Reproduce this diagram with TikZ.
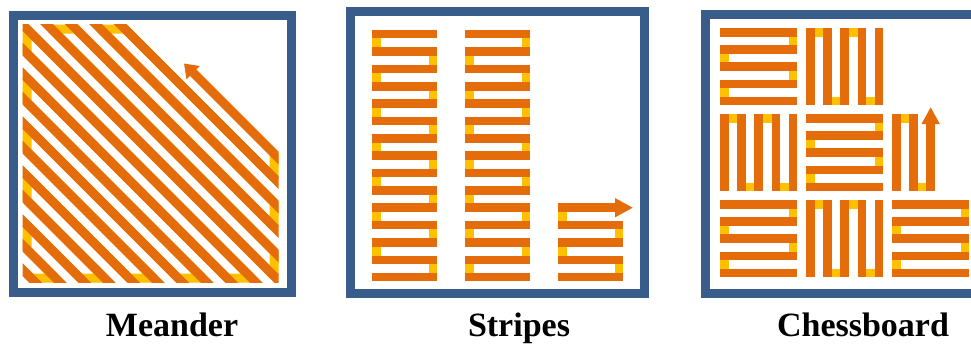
\documentclass[tikz,border=0pt]{standalone}
\usepackage{fontspec}
\setmainfont{Liberation Serif}
\usepackage{tikz}
\usetikzlibrary{arrows.meta}
\definecolor{stripeorange}{HTML}{E46C0A}
\definecolor{turnyellow}{HTML}{FFC000}
\definecolor{frameblue}{HTML}{385D8A}

% chessboard tiles: 5 bars each, turns drawn first, bars on top
\newcommand{\hTile}[2]{%
  \foreach \i in {0,2} {
    \draw[turn] (#1+73.05,#2+4.25+17.2*\i) -- ++(0,17.2);
    \draw[turn] (#1+4.25,#2+21.45+17.2*\i) -- ++(0,17.2);
  }
  \foreach \i in {0,...,4}
    \draw[bar] (#1,#2+4.25+17.2*\i) -- ++(77.3,0);
}
\newcommand{\vTile}[2]{%
  \foreach \i in {0,2} {
    \draw[turn] (#1+4.25+17.2*\i,#2+4.25) -- ++(17.2,0);
    \draw[turn] (#1+21.45+17.2*\i,#2+73.05) -- ++(17.2,0);
  }
  \foreach \i in {0,...,4}
    \draw[bar] (#1+4.25+17.2*\i,#2) -- ++(0,77.3);
}

\begin{document}
\begin{tikzpicture}[x=1pt,y=-1pt,
    bar/.style={draw=stripeorange,line width=8.5pt},
    turn/.style={draw=turnyellow,line width=8.5pt,line join=bevel},
    frame/.style={draw=frameblue,line width=9pt},
    caption/.style={anchor=base,font=\bfseries\fontsize{34}{40}\selectfont}]
  \clip (0,0) rectangle (971,343);

  % Meander
  \begin{scope}[bar/.append style={line width=9pt},turn/.append style={line width=9pt}]
    \clip (22.5,24.5) rectangle (278.5,282.5);
    \draw[turn] (27,274) -- (31,278) -- (55.5,278) -- (27,249.5) -- (27,225) -- (80,278)
      -- (104.5,278) -- (27,200.5) -- (27,176) -- (129,278) -- (153.5,278) -- (27,151.5)
      -- (27,127) -- (178,278) -- (202.5,278) -- (27,102.5) -- (27,78) -- (227,278)
      -- (251.5,278) -- (27,53.5) -- (27,29) -- (274,276) -- (274,251.5) -- (51.5,29)
      -- (76,29) -- (274,227) -- (274,202.5) -- (100.5,29) -- (125,29) -- (274,178)
      -- (274,153.5);
    \foreach \u in {-96,-71.5,...,247}
      \draw[bar] (-100,-100+\u) -- (400,400+\u);
    \draw[bar,-{Triangle[width=18pt,length=13pt]}] (300,179.5) -- (184,63.5);
  \end{scope}
  \draw[frame] (13,15) rectangle (291,292.5);
  \node[caption] (lblMeander) at (172,336) {Meander};

  % Stripes
  \foreach \x/\a/\b/\first in {372/376.25/432.75/1, 465/525.75/469.25/1, 558/562.25/618.75/11} {
    \foreach \i in {\first,...,14} {
      \ifodd\i \def\tx{\a}\else\def\tx{\b}\fi
      \draw[turn] (\tx,16.85+17.35*\i) -- ++(0,17.35);
    }
    \foreach \i in {\first,...,15}
      \draw[bar] (\x,16.85+17.35*\i) -- ++(65,0);
  }
  \draw[bar,-{Triangle[width=18pt,length=18pt]}] (558,207.7) -- (633,207.7);
  \draw[frame] (350,11.5) rectangle (644,293.5);
  \node[caption] (lblStripes) at (519,336) {Stripes};

  % Chessboard
  \hTile{720}{28}  \vTile{806}{28}
  \vTile{720}{114} \hTile{806}{114}
  \hTile{720}{200} \vTile{806}{200} \hTile{892}{200}
  \draw[turn] (896.25,118.25) -- ++(17.2,0);
  \draw[turn] (913.45,187.05) -- ++(17.2,0);
  \draw[bar] (896.25,114) -- ++(0,77.3);
  \draw[bar] (913.45,114) -- ++(0,77.3);
  \draw[bar,-{Triangle[width=17pt,length=17pt]}] (930.65,191.3) -- (930.65,107);
  \draw[frame] (705,14.5) rectangle (990,293);
  \node[caption] (lblChess) at (863,336) {Chessboard};
\end{tikzpicture}
\end{document}
